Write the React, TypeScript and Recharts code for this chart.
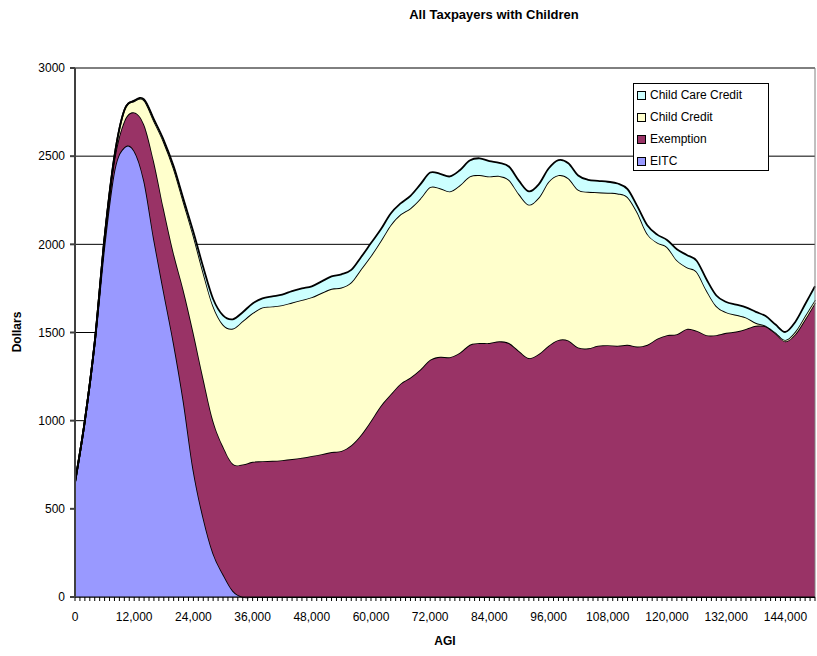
import { Area, AreaChart, CartesianGrid, ReferenceLine, XAxis, YAxis } from "recharts";

// AGI in dollars, one point every 2,000
const agi = [
  0, 2000, 4000, 6000, 8000, 10000, 12000, 14000, 16000, 18000, 20000, 22000, 24000, 26000, 28000, 30000,
  32000, 34000, 36000, 38000, 40000, 42000, 44000, 46000, 48000, 50000, 52000, 54000, 56000, 58000, 60000,
  62000, 64000, 66000, 68000, 70000, 72000, 74000, 76000, 78000, 80000, 82000, 84000, 86000, 88000, 90000,
  92000, 94000, 96000, 98000, 100000, 102000, 104000, 106000, 108000, 110000, 112000, 114000, 116000, 118000,
  120000, 122000, 124000, 126000, 128000, 130000, 132000, 134000, 136000, 138000, 140000, 142000, 144000,
  146000, 148000, 150000,
];

const eitc = [
  650, 1000, 1440, 2000, 2420, 2550, 2530, 2360, 2030, 1730, 1440, 1110, 720, 450, 248, 130,
  35, 0, 0, 0, 0, 0, 0, 0, 0, 0, 0, 0, 0, 0, 0,
  0, 0, 0, 0, 0, 0, 0, 0, 0, 0, 0, 0, 0, 0, 0,
  0, 0, 0, 0, 0, 0, 0, 0, 0, 0, 0, 0, 0, 0,
  0, 0, 0, 0, 0, 0, 0, 0, 0, 0, 0, 0, 0,
  0, 0, 0,
];

const exemption = [
  0, 0, 5, 35, 65, 150, 218, 320, 440, 470, 510, 630, 780, 790, 752, 725,
  720, 752, 767, 770, 772, 776, 782, 790, 800, 810, 822, 828, 860, 920, 1000,
  1085, 1150, 1210, 1245, 1290, 1345, 1362, 1360, 1385, 1430, 1440, 1440, 1450, 1440, 1395,
  1355, 1378, 1425, 1458, 1455, 1415, 1410, 1425, 1428, 1425, 1430, 1420, 1430, 1465,
  1485, 1490, 1520, 1510, 1485, 1485, 1498, 1505, 1520, 1538, 1535, 1495, 1450,
  1490, 1575, 1668,
];

const childCredit = [
  0, 0, 0, 5, 15, 60, 64, 137, 230, 380, 480, 500, 550, 600, 650, 690,
  767, 813, 843, 872, 876, 879, 888, 895, 900, 915, 926, 927, 925, 940, 935,
  935, 960, 960, 960, 970, 980, 956, 940, 950, 955, 953, 945, 938, 925, 890,
  870, 887, 930, 934, 920, 895, 888, 870, 864, 863, 838, 760, 630, 545,
  500, 420, 350, 335, 255, 165, 117, 95, 65, 17, 3, 5, 8,
  15, 20, 17,
];

const childCareCredit = [
  0, 0, 0, 0, 0, 0, 3, 5, 8, 10, 12, 15, 20, 30, 40, 52,
  53, 50, 55, 52, 57, 60, 65, 65, 62, 65, 70, 75, 70, 68, 72,
  65, 65, 62, 70, 80, 82, 82, 85, 85, 90, 95, 87, 74, 75, 75,
  75, 75, 75, 86, 85, 80, 68, 65, 63, 57, 45, 35, 48, 45,
  40, 62, 70, 62, 62, 60, 58, 58, 58, 62, 55, 45, 45,
  55, 65, 77,
];

const yTicks = [0, 500, 1000, 1500, 2000, 2500, 3000];
const xTicks = agi.flatMap((v) => (v < 150000 ? [v, v + 1000] : [v]));

const series = [
  { key: "eitc", name: "EITC", fill: "#9999FF" },
  { key: "exemption", name: "Exemption", fill: "#993366" },
  { key: "childCredit", name: "Child Credit", fill: "#FFFFCC" },
  { key: "childCareCredit", name: "Child Care Credit", fill: "#CCFFFF" },
];

const rows = agi.map((x, i) => ({
  agi: x,
  eitc: eitc[i],
  exemption: exemption[i],
  childCredit: childCredit[i],
  childCareCredit: childCareCredit[i],
}));

// Excel-like smoothed line: cardinal spline through the points (same as d3 curveCardinal)
class Smooth {
  _context: any;
  _k = 1 / 6;
  _line = NaN;
  _point = 0;
  _x0 = NaN; _x1 = NaN; _x2 = NaN; _y0 = NaN; _y1 = NaN; _y2 = NaN;
  constructor(context: any) {
    this._context = context;
  }
  bez(x: number, y: number) {
    this._context.bezierCurveTo(
      this._x1 + this._k * (this._x2 - this._x0),
      this._y1 + this._k * (this._y2 - this._y0),
      this._x2 + this._k * (this._x1 - x),
      this._y2 + this._k * (this._y1 - y),
      this._x2,
      this._y2
    );
  }
  areaStart() { this._line = 0; }
  areaEnd() { this._line = NaN; }
  lineStart() {
    this._x0 = this._x1 = this._x2 = this._y0 = this._y1 = this._y2 = NaN;
    this._point = 0;
  }
  lineEnd() {
    if (this._point === 2) this._context.lineTo(this._x2, this._y2);
    else if (this._point === 3) this.bez(this._x1, this._y1);
    if (this._line || (this._line !== 0 && this._point === 1)) this._context.closePath();
    this._line = 1 - this._line;
  }
  point(x: number, y: number) {
    x = +x; y = +y;
    if (this._point === 0) {
      this._point = 1;
      if (this._line) this._context.lineTo(x, y);
      else this._context.moveTo(x, y);
    } else if (this._point === 1) {
      this._point = 2;
      this._x1 = x; this._y1 = y;
    } else {
      this._point = 3;
      this.bez(x, y);
    }
    this._x0 = this._x1; this._x1 = this._x2; this._x2 = x;
    this._y0 = this._y1; this._y1 = this._y2; this._y2 = y;
  }
}
const smoothCurve = (context: any) => new Smooth(context);

const font = "Arial, 'Liberation Sans', sans-serif";

export default function App() {
  return (
    <div style={{ position: "absolute", left: 0, top: 0, width: 817, height: 656, background: "#fff", fontFamily: font }}>
      <div style={{ position: "absolute", left: 0, width: 988, top: 7, textAlign: "center", fontSize: 13, fontWeight: "bold" }}>
        All Taxpayers with Children
      </div>
      <AreaChart width={817} height={656} data={rows} margin={{ top: 68, right: 2, bottom: 19, left: 15 }}>
        <CartesianGrid vertical={false} stroke="#000" />
        <XAxis
          dataKey="agi"
          type="number"
          domain={[0, 150000]}
          ticks={xTicks}
          interval={0}
          tickFormatter={(v: number) => (v % 12000 === 0 ? v.toLocaleString("en-US") : "")}
          tickSize={4}
          tickMargin={11}
          height={40}
          stroke="#000"
          tick={{ fill: "#000", fontSize: 12, fontFamily: font }}
        />
        <YAxis
          type="number"
          domain={[0, 3000]}
          ticks={yTicks}
          width={60}
          tickSize={5}
          tickMargin={5}
          stroke="#404040"
          strokeWidth={2}
          tick={{ fill: "#000", fontSize: 12, fontFamily: font }}
        />
        {series.map((s) => (
          <Area
            key={s.key}
            type={smoothCurve as any}
            dataKey={s.key}
            name={s.name}
            stackId="a"
            stroke="#000"
            strokeWidth={1.8}
            fill={s.fill}
            fillOpacity={1}
            isAnimationActive={false}
          />
        ))}
        <ReferenceLine x={150000} stroke="#808080" />
      </AreaChart>
      <div style={{ position: "absolute", left: 17, top: 332, transform: "translate(-50%, -50%) rotate(-90deg)", fontSize: 12, fontWeight: "bold" }}>
        Dollars
      </div>
      <div style={{ position: "absolute", left: 445, top: 641, transform: "translate(-50%, -50%)", fontSize: 12, fontWeight: "bold" }}>
        AGI
      </div>
      <div style={{ position: "absolute", left: 633, top: 83, width: 134, height: 86, border: "1px solid #000", background: "#fff" }}>
        {[...series].reverse().map((s) => (
          <div key={s.key} style={{ height: 22, display: "flex", alignItems: "center", fontSize: 12 }}>
            <span style={{ width: 7, height: 7, marginLeft: 3, marginRight: 4, border: "1px solid #000", background: s.fill, display: "inline-block" }} />
            {s.name}
          </div>
        ))}
      </div>
    </div>
  );
}
